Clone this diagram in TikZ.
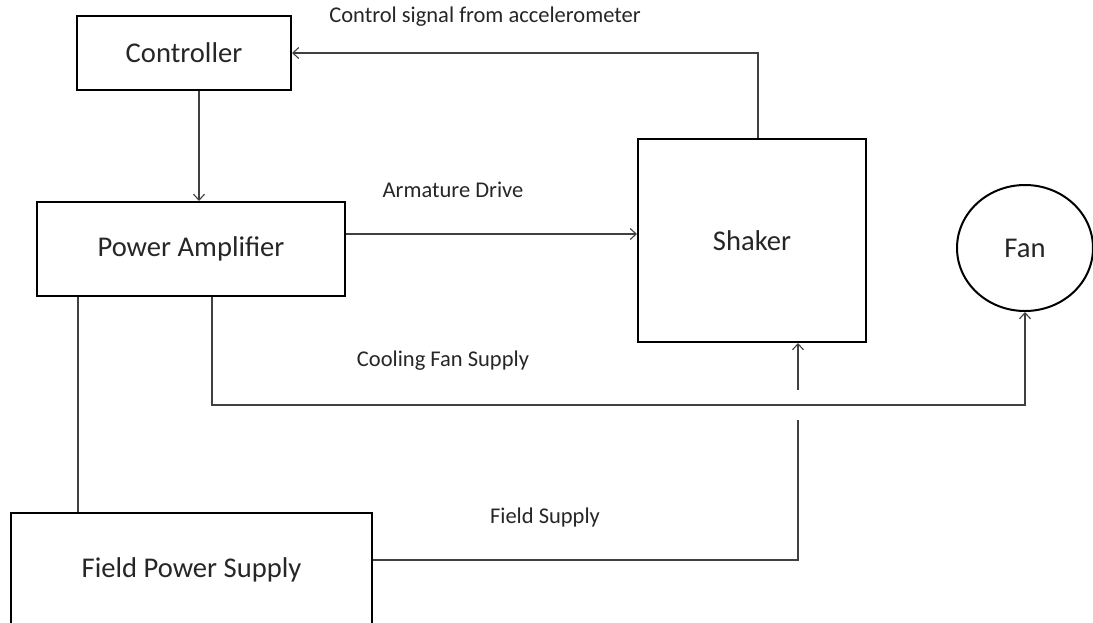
\documentclass[tikz,border=0pt]{standalone}
\usepackage{fontspec}
\setmainfont{Carlito}
\usetikzlibrary{arrows.meta,shapes.geometric}
\tikzset{
  blk/.style={draw=black, line width=2pt, rectangle, inner sep=0pt, text=black!85,
    font=\fontsize{28.6}{34}\selectfont},
  fanshape/.style={draw=black, line width=2pt, ellipse, inner sep=0pt, text=black!85,
    minimum width=136pt, minimum height=126pt, font=\fontsize{28.6}{34}\selectfont},
  lbl/.style={text=black!85, inner sep=0pt, font=\fontsize{22.5}{27}\selectfont},
  conn/.style={draw=black!75, line width=1.1pt},
  arr/.style={conn, -{Straight Barb[length=6pt,width=11pt,line width=1.1pt]}}
}
\begin{document}
\begin{tikzpicture}[x=1pt,y=-1pt]
\useasboundingbox (0,0) rectangle (1093,622);
\clip (0,0) rectangle (1093,622);
% blocks
\node[blk, minimum width=214pt, minimum height=74pt] (ctrl) at (184,53) {Controller};
\node[blk, minimum width=308pt, minimum height=94pt] (pa) at (191,249) {Power Amplifier};
\node[blk, minimum width=228pt, minimum height=203pt] (shk) at (752,240.5) {Shaker};
\node[fanshape] (fan) at (1025,248) {Fan};
\node[blk, minimum width=361pt, minimum height=114pt] (fps) at (191.5,570) {Field Power Supply};
% labels
\node[lbl] (lctrl) at (485,17) {Control signal from accelerometer};
\node[lbl] (larm) at (453,190) {Armature Drive};
\node[lbl] (lcool) at (443,361) {Cooling Fan Supply};
\node[lbl] (lfield) at (545,517) {Field Supply};
% helper coordinates
\coordinate (fanturn) at (1025,405);
\coordinate (shkarr) at (798,390);
\coordinate (fieldend) at (798,420);
% connectors
\draw[arr] ([xshift=6pt]shk.north) |- (ctrl.east);
\draw[arr] ([xshift=15pt]ctrl.south) -- ([xshift=15pt]ctrl.south |- pa.north);
\draw[arr] ([yshift=15pt]pa.east) -- ([yshift=15pt]pa.east -| shk.west);
\draw[arr] ([xshift=21pt]pa.south) |- (fanturn) -- (fan.south);
\draw[arr] (shkarr) -- (shkarr |- shk.south);
\draw[conn] ([yshift=10pt]fps.east) -| (fieldend);
\draw[conn] ([xshift=-113pt]pa.south) -- ([xshift=-113pt]pa.south |- fps.north);
\end{tikzpicture}
\end{document}
